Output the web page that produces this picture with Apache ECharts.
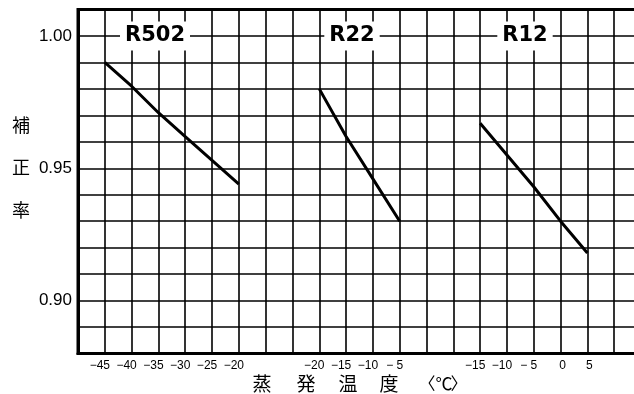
<!DOCTYPE html>
<html><head><meta charset="utf-8">
<script src="https://cdn.jsdelivr.net/npm/echarts@6/dist/echarts.min.js"></script>
<style>html,body{margin:0;padding:0;background:#fff}#c{width:634px;height:394px}</style>
</head><body><div id="c"></div>
<script>
// x positions: one category per grid column line (blank = unlabeled line)
const xCategories = ['', '−45', '−40', '−35', '−30', '−25', '−20', '', '', '−20', '−15', '−10', '− 5', '', '', '−15', '−10', '− 5', '0', '5', '', ''];
// correction factor, aligned with xCategories
const r502Values = [null, 0.990, 0.981, 0.971, 0.962, 0.953, 0.944, null, null, null, null, null, null, null, null, null, null, null, null, null, null, null];
const r22Values  = [null, null, null, null, null, null, null, null, null, 0.980, 0.962, 0.946, 0.930, null, null, null, null, null, null, null, null, null];
const r12Values  = [null, null, null, null, null, null, null, null, null, null, null, null, null, null, null, 0.967, 0.955, 0.943, 0.930, 0.918, null, null];
const seriesNames = ['R502', 'R22', 'R12'];
const yTickLabels = ['0.90', '0.95', '1.00'];
const yNameChars = ['補', '正', '率'];
const xNameChars = ['蒸', '発', '温', '度', '〈', '℃', '〉'];

const chart = echarts.init(document.getElementById('c'), null, {renderer: 'canvas'});
const lineStyle = {color: '#000', width: 3};
const mk = (name, data) => ({
  name, type: 'line', data, symbol: 'none', connectNulls: false,
  lineStyle, itemStyle: {color: '#000'}, z: 5, silent: true
});

const nameBoxes = [
  {x: 155, y: 36}, {x: 352, y: 36}, {x: 525, y: 36}
];
const yNamePos = [{x: 21, y: 125}, {x: 21, y: 167}, {x: 21, y: 210}];
const xNamePos = [262, 306, 348, 389, 427, 444, 459];

const graphic = [];
seriesNames.forEach((t, i) => graphic.push({
  type: 'text', x: nameBoxes[i].x, y: nameBoxes[i].y, z: 100,
  style: {text: t, font: 'bold 21px "DejaVu Sans"', fill: '#000', align: 'center', verticalAlign: 'middle',
          backgroundColor: '#fff', padding: [4, 5, 4, 5]}
}));
yNameChars.forEach((t, i) => graphic.push({
  type: 'text', x: yNamePos[i].x, y: yNamePos[i].y, z: 100,
  style: {text: t, font: '18px "Noto Sans CJK JP"', fill: '#000', align: 'center', verticalAlign: 'middle'}
}));
xNameChars.forEach((t, i) => graphic.push({
  type: 'text', x: xNamePos[i], y: 384, z: 100,
  style: {text: t, font: (i < 4 ? '19px' : '17px') + ' "Noto Sans CJK JP"', fill: '#000', align: 'center', verticalAlign: 'middle'}
}));

chart.setOption({
  animation: false,
  backgroundColor: '#fff',
  grid: {left: 78, top: 9.5, height: 344, width: 563, outerBoundsMode: 'none', containLabel: false,
         show: true, borderColor: '#000', borderWidth: 3, backgroundColor: 'transparent'},
  xAxis: {
    type: 'category', data: xCategories, boundaryGap: false,
    axisLine: {show: true, lineStyle: {color: '#000', width: 3}},
    axisTick: {show: false},
    axisLabel: {
      interval: 0, margin: 6, color: '#000', fontSize: 12, fontFamily: 'Liberation Sans',
      formatter: v => v === '' ? '' : (v.charAt(0) === '−' ? '{n|' + v + '}' : '{p|' + v + '}'),
      rich: {
        n: {fontSize: 12, fontFamily: 'Liberation Sans', color: '#000', padding: [0, 10, 0, 0]},
        p: {fontSize: 12, fontFamily: 'Liberation Sans', color: '#000', padding: [0, 0, 0, 4]}
      }
    },
    splitLine: {show: true, interval: 0, lineStyle: {color: '#000', width: 1.6}}
  },
  yAxis: {
    type: 'value', min: 0.88, max: 1.01, interval: 0.01,
    axisLine: {show: true, lineStyle: {color: '#000', width: 3}},
    axisTick: {show: false},
    axisLabel: {
      margin: 6, color: '#000', fontSize: 17, fontFamily: 'Liberation Sans',
      formatter: v => { const s = v.toFixed(2); return yTickLabels.includes(s) ? s : ''; }
    },
    splitLine: {show: true, lineStyle: {color: '#000', width: 1.6}}
  },
  graphic,
  series: [mk(seriesNames[0], r502Values), mk(seriesNames[1], r22Values), mk(seriesNames[2], r12Values)]
});
</script>
</body></html>
